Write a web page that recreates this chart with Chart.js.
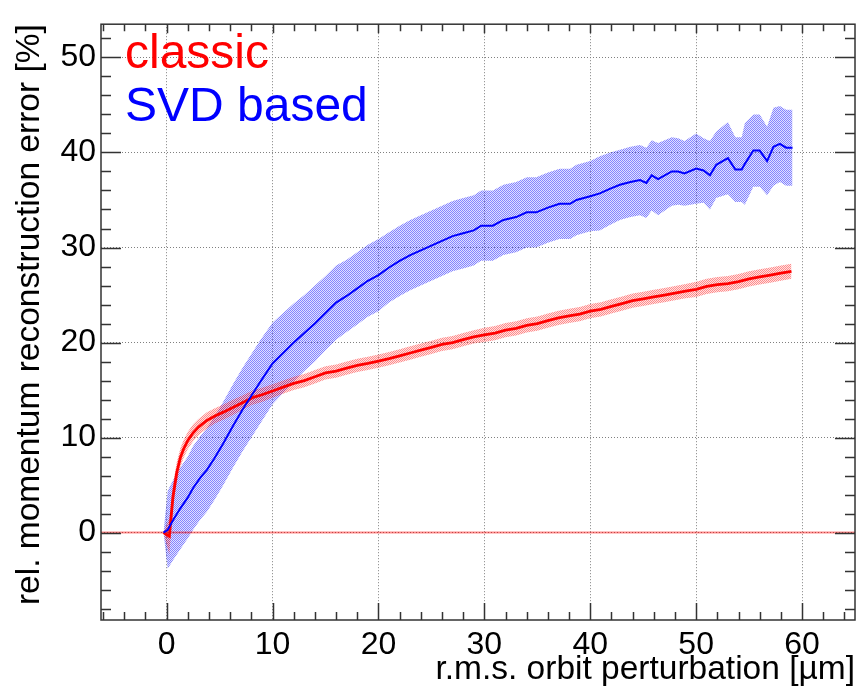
<!DOCTYPE html>
<html>
<head>
<meta charset="utf-8">
<script src="https://cdn.jsdelivr.net/npm/chart.js@4.4.1/dist/chart.umd.min.js"></script>
<style>
  html, body { margin: 0; padding: 0; background: #fff; }
</style>
</head>
<body>
<canvas id="c" width="858" height="695"></canvas>
<script>
// ─── Data ───────────────────────────────────────────────────────────────────
const xMin = -6.2, xMax = 65.0;
const yMin = -9.2, yMax = 53.5;
const xTicks = [0, 10, 20, 30, 40, 50, 60];
const yTicks = [0, 10, 20, 30, 40, 50];

const seriesNames = ['classic', 'SVD based'];

const classicX = [-0.3, 0.25, 0.6, 0.95, 1.3, 1.6, 2.0, 2.5, 3.0, 3.8, 4.6, 5.4, 6.3, 7.2, 8.1, 9.0,
  10, 11, 12, 13, 14, 15, 16, 17, 18, 19, 20, 21, 22, 23, 24, 25, 26, 27, 28, 29,
  30, 31, 32, 33, 34, 35, 36, 37, 38, 39, 40, 41, 42, 43, 44, 45, 46, 47, 48, 49,
  50, 51, 52, 53, 54, 55, 56, 57, 58, 59];
const classicY = [0, -0.4, 3.8, 6.3, 7.9, 8.8, 9.7, 10.5, 11.1, 11.8, 12.3, 12.7, 13.2, 13.7, 14.2, 14.5,
  14.9, 15.3, 15.7, 16.0, 16.4, 16.8, 17.0, 17.3, 17.6, 17.8, 18.05, 18.3, 18.6, 18.9, 19.2, 19.5, 19.8, 20.0, 20.3, 20.6,
  20.8, 21.0, 21.3, 21.5, 21.8, 22.0, 22.3, 22.6, 22.8, 23.0, 23.3, 23.5, 23.8, 24.1, 24.4, 24.6, 24.8, 25.0, 25.2, 25.4,
  25.6, 25.9, 26.1, 26.2, 26.4, 26.7, 26.9, 27.1, 27.3, 27.5];
const classicErr = [0, 1.9, 1.3, 1.1, 1.0, 0.95, 0.9, 0.9, 0.85, 0.85, 0.8, 0.8, 0.8, 0.75, 0.75, 0.75,
  0.7, 0.7, 0.7, 0.7, 0.7, 0.7, 0.7, 0.7, 0.7, 0.7, 0.7, 0.7, 0.7, 0.7, 0.7, 0.7, 0.7, 0.7, 0.7, 0.7,
  0.75, 0.75, 0.75, 0.75, 0.75, 0.75, 0.75, 0.75, 0.75, 0.75, 0.75, 0.75, 0.75, 0.75, 0.75, 0.75, 0.75, 0.75, 0.75, 0.75,
  0.8, 0.8, 0.8, 0.8, 0.8, 0.8, 0.8, 0.8, 0.8, 0.8];

const svdX = [-0.3, 0.1, 0.6, 1.26, 2.0, 2.5, 3.2, 3.8, 4.5, 5.3,
  6.3, 7.2, 8.0, 8.8, 10, 11, 12, 13, 14, 15,
  16, 17, 18, 19, 20, 21, 22, 23, 24, 25,
  26, 27, 28, 29, 29.7, 30.8, 31.8, 33, 34, 34.9,
  36, 37.1, 38.1, 38.7, 40, 40.9, 41.9, 42.8, 43.8, 44.7,
  45.3, 45.8, 46.4, 47.7, 48.3, 48.9, 50, 50.7, 51.3, 51.9,
  53, 53.7, 54.3, 54.6, 55.4, 56, 56.7, 57.3, 57.9, 58.5, 59.1];
const svdY = [0, 0.3, 1.3, 2.5, 3.7, 4.7, 5.8, 6.6, 7.8, 9.3,
  11.3, 13.0, 14.4, 15.8, 17.8, 18.9, 20.0, 21.0, 22.0, 23.1,
  24.2, 24.9, 25.7, 26.5, 27.1, 27.9, 28.6, 29.2, 29.7, 30.2,
  30.7, 31.2, 31.5, 31.8, 32.3, 32.3, 32.9, 33.2, 33.7, 33.7,
  34.2, 34.6, 34.6, 35.0, 35.4, 35.7, 36.2, 36.6, 36.9, 37.1,
  36.8, 37.6, 37.2, 38.0, 38.0, 37.8, 38.3, 38.1, 37.6, 38.7,
  39.4, 38.2, 38.2, 38.8, 40.2, 40.2, 39.1, 40.6, 40.9, 40.5, 40.5];
const svdErr = [0, 4.1, 4.2, 4.3, 4.3, 4.4, 4.4, 4.4, 4.4, 4.4,
  4.4, 4.4, 4.4, 4.4, 4.3, 4.2, 4.1, 4.0, 4.0, 3.9,
  3.9, 3.8, 3.8, 3.8, 3.8, 3.7, 3.7, 3.7, 3.7, 3.7,
  3.7, 3.7, 3.7, 3.7, 3.7, 3.7, 3.7, 3.7, 3.7, 3.7,
  3.7, 3.7, 3.7, 3.7, 3.7, 3.9, 3.8, 3.7, 3.7, 3.7,
  3.7, 3.7, 3.8, 3.6, 3.5, 3.4, 3.7, 3.4, 3.6, 3.5,
  3.8, 3.4, 3.4, 4.3, 3.8, 3.8, 3.6, 4.1, 4.0, 4.0, 4.0];

// ligne horizontale a y = 0 sur toute la largeur
const zeroLineX = [xMin, xMax];
const zeroLineY = [0, 0];

// ─── Helpers ────────────────────────────────────────────────────────────────
const FONT = "'Liberation Sans', Arial, Helvetica, sans-serif";
const canvas = document.getElementById('c');
const ctx0 = canvas.getContext('2d');

function pts(xs, ys, off, sign) {
  return xs.map((v, i) => ({ x: v, y: ys[i] + (off ? sign * off[i] : 0) }));
}

// motif pointille facon ROOT (fill style 30xx)
function makePattern(dark, light) {
  const c = document.createElement('canvas');
  c.width = 2; c.height = 2;
  const g = c.getContext('2d');
  g.fillStyle = light; g.fillRect(1, 0, 1, 1); g.fillRect(0, 1, 1, 1);
  g.fillStyle = dark;  g.fillRect(0, 0, 1, 1); g.fillRect(1, 1, 1, 1);
  return ctx0.createPattern(c, 'repeat');
}
const bluePattern = makePattern('rgba(0,0,255,0.48)', 'rgba(0,0,255,0.12)');
const redPattern  = makePattern('rgba(255,0,0,0.45)', 'rgba(255,0,0,0.12)');

const band = (data, bg, fill, order) => ({
  data, fill, backgroundColor: bg, borderWidth: 0, pointRadius: 0, order, tension: 0,
});

// ─── Cadre, graduations internes et legende (style ROOT) ────────────────────
const rootFrame = {
  id: 'rootFrame',
  afterDatasetsDraw(chart) {
    const { ctx, chartArea: a, scales: { x, y } } = chart;
    ctx.save();
    ctx.strokeStyle = '#333';
    ctx.lineWidth = 1.5;
    ctx.beginPath();
    for (let v = Math.ceil(xMin / 2) * 2; v <= xMax; v += 2) {
      const px = Math.round(x.getPixelForValue(v)) + 0.5;
      const major = xTicks.includes(v);
      const lb = major ? 17 : 8, lt = major ? 9 : 7;
      ctx.moveTo(px, a.bottom); ctx.lineTo(px, a.bottom - lb);
      ctx.moveTo(px, a.top);    ctx.lineTo(px, a.top + lt);
    }
    for (let v = Math.ceil(yMin / 2) * 2; v <= yMax; v += 2) {
      const py = Math.round(y.getPixelForValue(v)) + 0.5;
      const l = yTicks.includes(v) ? 20 : 10;
      ctx.moveTo(a.left, py);  ctx.lineTo(a.left + l, py);
      ctx.moveTo(a.right, py); ctx.lineTo(a.right - l, py);
    }
    ctx.stroke();
    ctx.strokeRect(a.left, a.top, a.right - a.left, a.bottom - a.top);

    // legende
    ctx.font = '48px ' + FONT;
    ctx.textBaseline = 'alphabetic';
    ctx.textAlign = 'left';
    ctx.fillStyle = '#ff0000';
    ctx.fillText(seriesNames[0], 125, 68);
    ctx.fillStyle = '#0000ff';
    ctx.fillText(seriesNames[1], 125, 121);
    ctx.restore();
  }
};

// ─── Chart ──────────────────────────────────────────────────────────────────
Chart.defaults.font.family = FONT;
Chart.defaults.color = '#000';

new Chart(canvas, {
  type: 'line',
  data: {
    datasets: [
      band(pts(svdX, svdY, svdErr, 1), bluePattern, '+1', 6),
      band(pts(svdX, svdY, svdErr, -1), 'transparent', false, 6),
      band(pts(classicX, classicY, classicErr, 1), redPattern, '+1', 5),
      band(pts(classicX, classicY, classicErr, -1), 'transparent', false, 5),
      { data: pts(zeroLineX, zeroLineY), borderColor: 'rgba(255,0,0,0.45)', borderWidth: 2,
        pointRadius: 0, fill: false, order: 4 },
      { label: seriesNames[0], data: pts(classicX, classicY), borderColor: '#ff0000', borderWidth: 2.8,
        pointRadius: 0, fill: false, tension: 0, order: 3 },
      { label: seriesNames[1], data: pts(svdX, svdY), borderColor: '#0000ff', borderWidth: 2,
        pointRadius: 0, fill: false, tension: 0, order: 2 },
    ],
  },
  options: {
    responsive: false,
    animation: false,
    layout: { padding: { top: 12, right: 3, left: 0, bottom: 0 } },
    plugins: {
      legend: { display: false },
      tooltip: { enabled: false },
    },
    scales: {
      x: {
        type: 'linear', min: xMin, max: xMax,
        afterBuildTicks: s => { s.ticks = xTicks.map(v => ({ value: v })); },
        afterFit: s => { s.height = 75; },
        ticks: { font: { size: 32 }, padding: 6, maxRotation: 0, autoSkip: false },
        grid: { drawTicks: false, color: '#808080', lineWidth: 1 },
        border: { display: false, dash: [1, 2] },
        title: { display: true, text: 'r.m.s. orbit perturbation [µm]', align: 'end',
                 font: { size: 33.5 }, padding: { top: 0, bottom: 5 } },
      },
      y: {
        type: 'linear', min: yMin, max: yMax,
        afterBuildTicks: s => { s.ticks = yTicks.map(v => ({ value: v })); },
        afterFit: s => { s.width = 101; },
        ticks: { font: { size: 32 }, padding: 5, autoSkip: false },
        grid: { drawTicks: false, color: '#808080', lineWidth: 1 },
        border: { display: false, dash: [1, 2] },
        title: { display: true, text: 'rel. momentum reconstruction error [%]', align: 'end',
                 font: { size: 33.5 }, padding: { top: 10, bottom: 0 } },
      },
    },
  },
  plugins: [rootFrame],
});
</script>
</body>
</html>
